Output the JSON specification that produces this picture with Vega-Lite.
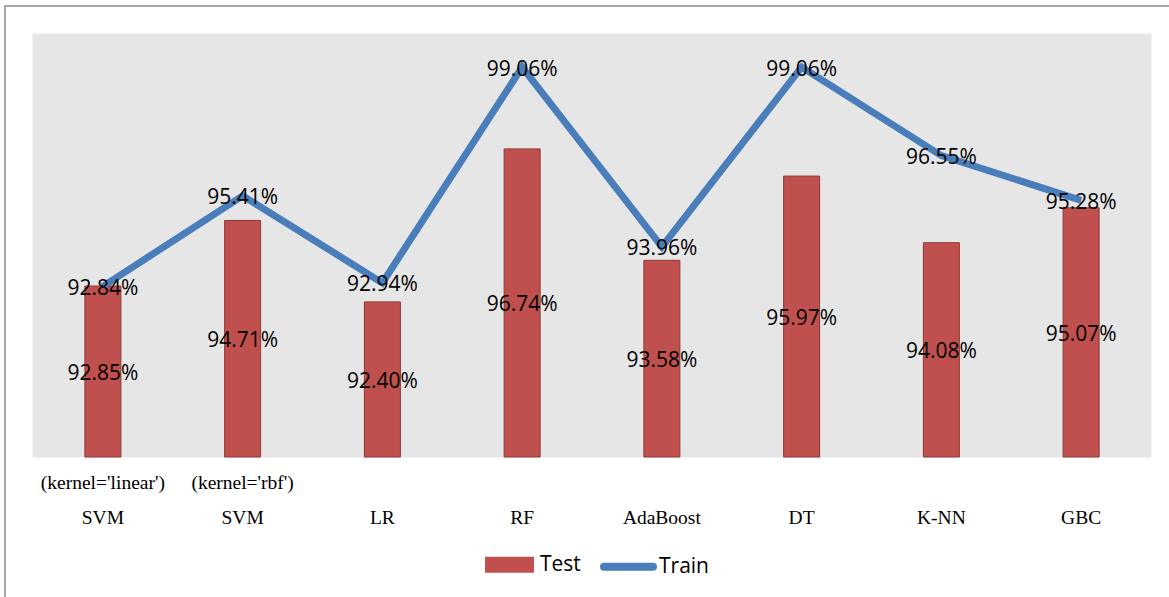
{
  "$schema": "https://vega.github.io/schema/vega-lite/v6.json",
  "width": 1164,
  "height": 591,
  "autosize": {"type": "none"},
  "padding": {"left": 5, "top": 6, "right": 0, "bottom": 0},
  "background": "#FFFFFF",
  "config": {
    "view": {"stroke": "#8C8C8C", "strokeWidth": 1.5, "strokeDash": [1164, 1755, 591], "fill": "#FFFFFF"}
  },
  "data": {
    "values": [
      {"model": "SVM (kernel='linear')", "test": 0.9285, "train": 0.9284},
      {"model": "SVM (kernel='rbf')", "test": 0.9471, "train": 0.9541},
      {"model": "LR", "test": 0.9240, "train": 0.9294},
      {"model": "RF", "test": 0.9674, "train": 0.9906},
      {"model": "AdaBoost", "test": 0.9358, "train": 0.9396},
      {"model": "DT", "test": 0.9597, "train": 0.9906},
      {"model": "K-NN", "test": 0.9408, "train": 0.9655},
      {"model": "GBC", "test": 0.9507, "train": 0.9528}
    ]
  },
  "encoding": {
    "x": {
      "field": "model",
      "type": "nominal",
      "sort": null,
      "scale": {"paddingInner": 0, "paddingOuter": 0.1646, "align": 0.6087},
      "axis": {
        "orient": "bottom",
        "offset": -140,
        "title": null,
        "domain": false,
        "ticks": false,
        "grid": false,
        "labelAngle": 0,
        "labelFont": "Liberation Serif",
        "labelFontSize": 19.5,
        "labelColor": "#000000",
        "labelPadding": 16,
        "labelLineHeight": 35,
        "labelBaseline": "top",
        "labelLimit": 0,
        "labelExpr": "indexof(datum.value, ' (') > 0 ? [substring(datum.value, indexof(datum.value, ' (') + 1), substring(datum.value, 0, indexof(datum.value, ' ('))] : ['\u00a0', datum.value]"
      }
    }
  },
  "layer": [
    {
      "mark": {"type": "rect", "fill": "#E6E6E6", "stroke": "#E6E6E6", "strokeWidth": 1},
      "encoding": {
        "y": {
          "datum": 1,
          "type": "quantitative",
          "scale": {"domain": [0.8402837, 1.0079433], "nice": false, "zero": false},
          "axis": null
        },
        "y2": {"datum": 0.88}
      }
    },
    {
      "mark": {"type": "bar", "width": {"band": 0.2576}, "stroke": "#8C3836", "strokeWidth": 1},
      "encoding": {
        "y": {"field": "test", "type": "quantitative"},
        "y2": {"datum": 0.88},
        "color": {
          "datum": "Test",
          "type": "nominal",
          "scale": {"domain": ["Test", "Train"], "range": ["#C0504D", "#4A7EBB"]},
          "legend": {
            "title": null,
            "orient": "none",
            "legendX": 476,
            "legendY": 530,
            "direction": "horizontal",
            "padding": 0,
            "symbolSize": 2401,
            "symbolType": "M-0.8367,-0.163H0.8367V0.163H-0.8367Z",
            "symbolStrokeWidth": 8,
            "labelFont": "Open Sans",
            "labelFontSize": 21,
            "labelColor": "#000000",
            "labelOffset": 2,
            "columnPadding": 7,
            "encoding": {
              "symbols": {
                "shape": {"value": {"expr": "datum.value === 'Train' ? 'stroke' : 'M-0.8367,-0.163H0.8367V0.163H-0.8367Z'"}},
                "fill": {"value": {"expr": "datum.value === 'Train' ? 'transparent' : '#C0504D'"}},
                "stroke": {"value": {"expr": "datum.value === 'Train' ? '#4A7EBB' : '#C0504D'"}},
                "strokeCap": {"value": "round"},
                "strokeJoin": {"value": "miter"},
                "opacity": {"value": 1}
              }
            }
          }
        }
      }
    },
    {
      "mark": {"type": "line", "strokeWidth": 7, "strokeJoin": "miter"},
      "encoding": {
        "y": {"field": "train", "type": "quantitative"},
        "color": {"datum": "Train", "type": "nominal"}
      }
    },
    {
      "mark": {"type": "text", "font": "Open Sans", "fontSize": 21, "fill": "#000000", "baseline": "middle", "align": "center", "dy": 2.5},
      "encoding": {
        "y": {"field": "train", "type": "quantitative"},
        "text": {"field": "train", "type": "quantitative", "format": ".2%"}
      }
    },
    {
      "mark": {
        "type": "text", "font": "Open Sans", "fontSize": 21, "fill": "#000000", "baseline": "middle", "align": "center",
        "dy": {"expr": "(scale('y', 0.88) - scale('y', datum.test)) / 2 + 2.5"}
      },
      "encoding": {
        "y": {"field": "test", "type": "quantitative"},
        "text": {"field": "test", "type": "quantitative", "format": ".2%"}
      }
    }
  ]
}
